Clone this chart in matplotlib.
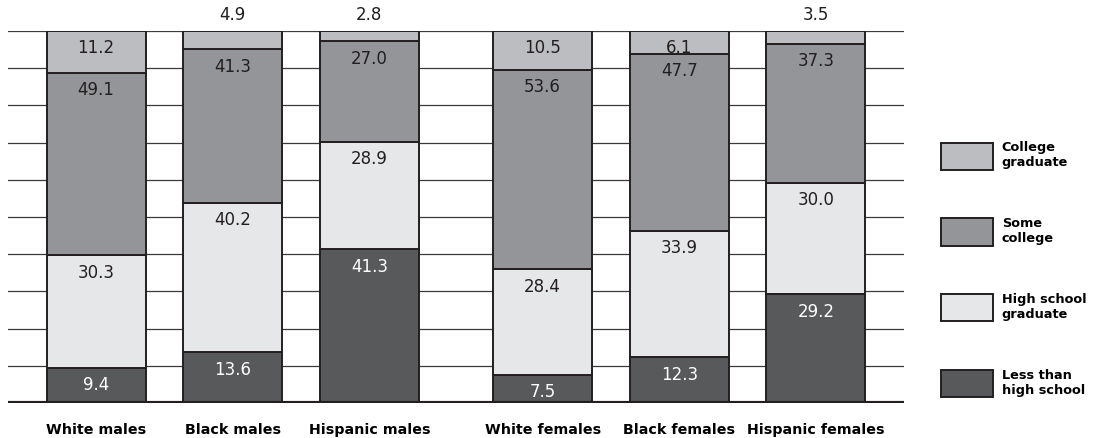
import numpy as np
import matplotlib
matplotlib.use('Agg')
import matplotlib.pyplot as plt
from matplotlib.patches import Patch

groups = ['White males', 'Black males', 'Hispanic males',
          'White females', 'Black females', 'Hispanic females']

# education shares (percent), bottom to top
less_than_hs = [9.4, 13.6, 41.3, 7.5, 12.3, 29.2]
hs_graduate = [30.3, 40.2, 28.9, 28.4, 33.9, 30.0]
some_college = [49.1, 41.3, 27.0, 53.6, 47.7, 37.3]
college_grad = [11.2, 4.9, 2.8, 10.5, 6.1, 3.5]

series = [
    ('Less than\nhigh school', less_than_hs, '#58595b', 'white'),
    ('High school\ngraduate', hs_graduate, '#e6e7e8', '#231f20'),
    ('Some\ncollege', some_college, '#939598', '#231f20'),
    ('College\ngraduate', college_grad, '#bcbdc0', '#231f20'),
]

# two clusters of three bars (males, females)
x = np.array([0, 1.38, 2.76, 4.51, 5.89, 7.27])

fig = plt.figure(figsize=(10.95, 4.38), dpi=100)
ax = fig.add_axes([8 / 1095, 35 / 438, 896 / 1095, 372 / 438])

bottom = np.zeros(len(groups))
for name, vals, color, tcolor in series:
    vals = np.array(vals)
    ax.bar(x, vals, width=1.0, bottom=bottom, color=color,
           edgecolor='#231f20', linewidth=1.4, zorder=3)
    tops = bottom + vals
    for xi, v, t in zip(x, vals, tops):
        if v < 5:
            ax.annotate(f'{v:.1f}', (xi, t), xytext=(0, 5), textcoords='offset points',
                        ha='center', va='bottom', fontsize=12, color='#231f20',
                        annotation_clip=False)
        else:
            ax.annotate(f'{v:.1f}', (xi, t), xytext=(0, -6), textcoords='offset points',
                        ha='center', va='top', fontsize=12, color=tcolor)
    bottom = tops

ax.set_ylim(0, 100)
ax.set_xlim(-0.89, 8.16)
ax.set_yticks(np.arange(10, 101, 10))
ax.yaxis.grid(True, color='#3a3a3a', linewidth=0.9, zorder=0)
ax.set_axisbelow(True)
ax.axhline(0, color='#231f20', linewidth=3, zorder=4)
for s in ax.spines.values():
    s.set_visible(False)
ax.tick_params(left=False, bottom=False, labelleft=False, pad=11)
ax.set_xticks(x)
ax.set_xticklabels(groups, fontsize=10.3, fontweight='bold')

handles = [Patch(facecolor=c, edgecolor='#231f20', linewidth=1.4, label=n)
           for n, _, c, _ in series][::-1]
fig.legend(handles=handles, loc='upper left', bbox_to_anchor=(941 / 1095, 1 - 141 / 438),
           frameon=False, prop={'size': 9.3, 'weight': 'bold'},
           handlelength=4.0, handleheight=2.85, handletextpad=0.7,
           labelspacing=3.65, borderpad=0, borderaxespad=0)

fig.savefig('out.png', dpi=100)
